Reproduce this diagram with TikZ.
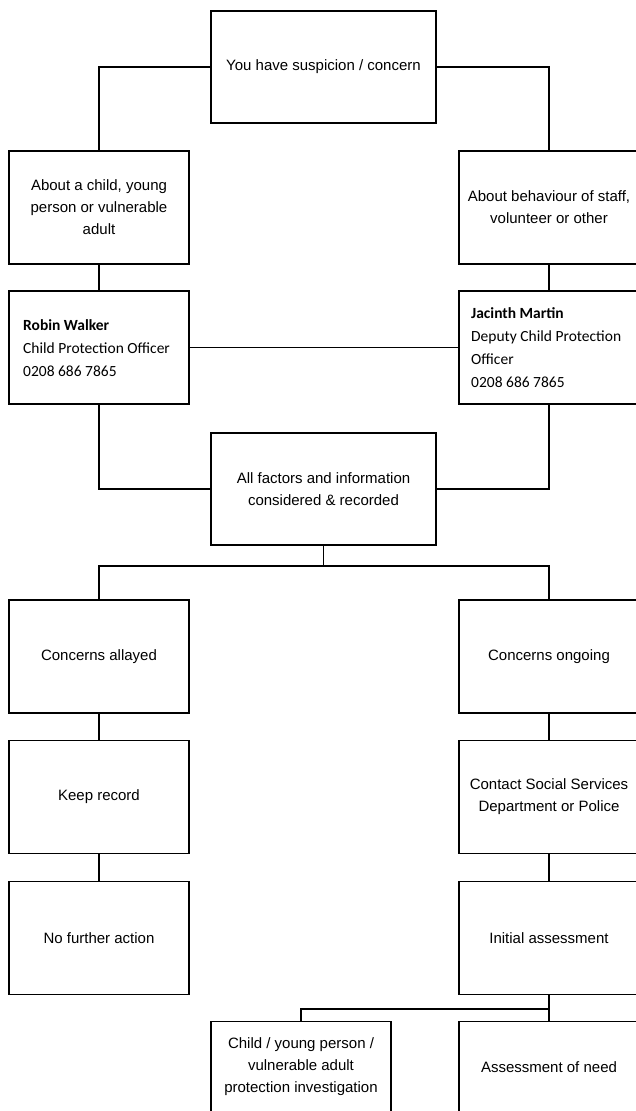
\documentclass[tikz,border=0pt]{standalone}
\usepackage{fontspec}
\setmainfont{Liberation Sans}
\newfontfamily\calib{Carlito}
\begin{document}
\begin{tikzpicture}[x=1pt,y=-1pt,
  box/.style={draw, line width=1.2pt, minimum width=180, minimum height=113, inner sep=0pt, align=center, font=\fontsize{15}{22}\selectfont},
  wide/.style={box, minimum width=225, minimum height=112},
  lowbox/.style={box, minimum height=91},
  persontext/.style={anchor=west, align=left, font=\calib\fontsize{15.5}{23}\selectfont, inner sep=0pt},
  link/.style={line width=1.2pt}]
\useasboundingbox (0,0) rectangle (636,1111);
\clip (0,0) rectangle (636,1111);
\fill[white] (0,0) rectangle (636,1111);
\node[wide] (top) at (323.5,67) {You have suspicion / concern};
\node[box] (l2) at (99,207.5) {About a child, young\\person or vulnerable\\adult};
\node[box] (r2) at (549,207.5) {About behaviour of staff,\\volunteer or other};
\node[box] (l3) at (99,347.5) {};
\node[persontext] (l3t) at (23,348) {\textbf{Robin Walker}\\Child Protection Officer\\0208 686 7865};
\node[box] (r3) at (549,347.5) {};
\node[persontext] (r3t) at (471,348) {\textbf{Jacinth Martin}\\Deputy Child Protection\\Officer\\0208 686 7865};
\node[wide] (mid) at (323.5,489) {All factors and information\\considered \& recorded};
\node[box] (l4) at (99,656.5) {Concerns allayed};
\node[box] (r4) at (549,656.5) {Concerns ongoing};
\node[box] (l5) at (99,797) {Keep record};
\node[box] (r5) at (549,797) {Contact Social Services\\Department or Police};
\node[box] (l6) at (99,938) {No further action};
\node[box] (r6) at (549,938) {Initial assessment};
\node[lowbox] (l7) at (301,1067) {Child / young person /\\vulnerable adult\\protection investigation};
\node[lowbox] (r7) at (549,1067) {Assessment of need};
\coordinate (cs) at (323.5,566);
\coordinate (bs) at (549,1009);
\draw[link] (top.west) -| (l2.north);
\draw[link] (top.east) -| (r2.north);
\draw[link] (l2.south) -- (l3.north);
\draw[link] (r2.south) -- (r3.north);
\draw[link] (l3.east) -- (r3.west);
\draw[link] (l3.south) |- (mid.west);
\draw[link] (r3.south) |- (mid.east);
\draw[link] (mid.south) -- (cs);
\draw[link] (cs) -| (l4.north);
\draw[link] (cs) -| (r4.north);
\draw[link] (l4.south) -- (l5.north);
\draw[link] (r4.south) -- (r5.north);
\draw[link] (l5.south) -- (l6.north);
\draw[link] (r5.south) -- (r6.north);
\draw[link] (r6.south) -- (r7.north);
\draw[link] (bs) -| (l7.north);
\end{tikzpicture}
\end{document}
